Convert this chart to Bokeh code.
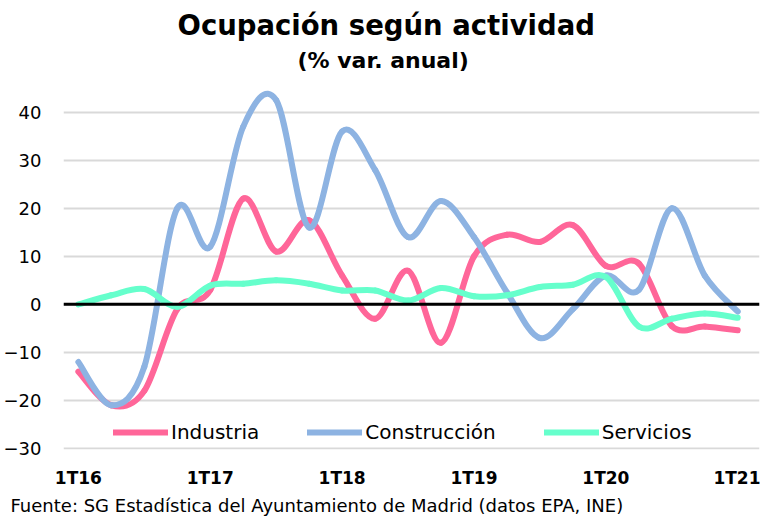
from bokeh.plotting import figure
from bokeh.models import (Range1d, FixedTicker, Title, Span, Legend, LegendItem,
                          ColumnDataSource)
from bokeh.embed import file_html
from bokeh.resources import INLINE

# ---- data ----
quarters = ["1T16", "2T16", "3T16", "4T16",
            "1T17", "2T17", "3T17", "4T17",
            "1T18", "2T18", "3T18", "4T18",
            "1T19", "2T19", "3T19", "4T19",
            "1T20", "2T20", "3T20", "4T20",
            "1T21"]
industria = [-14, -21, -18, -1, 3, 22, 11, 17.5, 6, -3, 7, -8,
             10, 14.5, 13, 16.5, 8, 8.5, -4.5, -4.6, -5.4]
construccion = [-12, -21, -13, 20, 12, 37, 42.5, 16, 36, 28, 14, 21.5,
                14, 2.5, -7, -1, 6, 3, 20, 6, -1.5]
servicios = [0, 1.9, 3.2, -0.5, 3.9, 4.3, 5, 4.3, 2.9, 2.9, 0.8, 3.4,
             1.7, 1.9, 3.6, 4.1, 5.7, -4.6, -3, -1.9, -2.8]
y_ticks = [-30, -20, -10, 0, 10, 20, 30, 40]

series = [("Industria", industria, "#FF6699"),
          ("Construcción", construccion, "#8DB3E2"),
          ("Servicios", servicios, "#66FFCC")]

FONT = "DejaVu Sans"

p = figure(width=760, height=518, output_backend="svg", toolbar_location=None,
           x_range=Range1d(-0.451, 20.66), y_range=Range1d(-30.21, 46.6),
           min_border_left=57, min_border_right=1, min_border_top=80,
           min_border_bottom=66, title=None)
p.outline_line_color = None
p.background_fill_color = "white"
p.border_fill_color = "white"

# titles (first added = closest to plot)
p.add_layout(Title(text="(% var. anual)", align="left", text_font=FONT,
                   text_font_size="22px", text_font_style="bold",
                   text_color="black", offset=234, standoff=16), "above")
p.add_layout(Title(text="Ocupación según actividad", align="left",
                   text_font=FONT, text_font_size="27.5px",
                   text_font_style="bold", text_color="black", offset=114,
                   standoff=-6), "above")

# axes
p.xgrid.grid_line_color = None
p.ygrid.grid_line_color = "#D9D9D9"
p.ygrid.grid_line_width = 2
p.yaxis.ticker = FixedTicker(ticks=y_ticks)
p.yaxis.axis_line_color = None
p.yaxis.major_tick_line_color = None
p.yaxis.minor_tick_line_color = None
p.yaxis.major_tick_out = 0
p.yaxis.major_label_standoff = 22
p.yaxis.major_label_text_font = FONT
p.yaxis.major_label_text_font_size = "18px"
p.yaxis.major_label_text_color = "black"

tick_idx = [i for i, q in enumerate(quarters) if q.startswith("1T")]
p.xaxis.ticker = FixedTicker(ticks=tick_idx)
p.xaxis.major_label_overrides = {i: quarters[i] for i in tick_idx}
p.xaxis.axis_line_color = None
p.xaxis.major_tick_line_color = None
p.xaxis.minor_tick_line_color = None
p.xaxis.major_tick_out = 0
p.xaxis.major_label_standoff = 18
p.xaxis.major_label_text_font = FONT
p.xaxis.major_label_text_font_size = "17px"
p.xaxis.major_label_text_font_style = "bold"
p.xaxis.major_label_text_color = "black"

p.add_layout(Span(location=0, dimension="width", line_color="black",
                  line_width=3))

# smooth curves: cubic Bezier segments through the data points
items = []
xs = list(range(len(quarters)))
for name, ys, color in series:
    n = len(ys)
    x0, y0, x1, y1, cx0, cy0, cx1, cy1 = ([] for _ in range(8))
    for i in range(n - 1):
        ip = max(i - 1, 0)
        inn = min(i + 2, n - 1)
        x0.append(xs[i]); y0.append(ys[i])
        x1.append(xs[i + 1]); y1.append(ys[i + 1])
        cx0.append(xs[i] + (xs[i + 1] - xs[ip]) / 6)
        cy0.append(ys[i] + (ys[i + 1] - ys[ip]) / 6)
        cx1.append(xs[i + 1] - (xs[inn] - xs[i]) / 6)
        cy1.append(ys[i + 1] - (ys[inn] - ys[i]) / 6)
    src = ColumnDataSource(dict(x0=x0, y0=y0, x1=x1, y1=y1,
                                cx0=cx0, cy0=cy0, cx1=cx1, cy1=cy1))
    r = p.bezier(x0="x0", y0="y0", x1="x1", y1="y1", cx0="cx0", cy0="cy0",
                 cx1="cx1", cy1="cy1", source=src, line_color=color,
                 line_width=6, line_cap="round")
    items.append(LegendItem(label=name, renderers=[r]))

legend = Legend(items=items, orientation="horizontal", location=(50, 5),
                glyph_width=55, glyph_height=20, label_standoff=3,
                spacing=48, padding=0, margin=0,
                label_text_font=FONT, label_text_font_size="20px",
                label_text_color="black", border_line_alpha=0,
                background_fill_alpha=0)
p.add_layout(legend, "center")

p.add_layout(Title(text="Fuente: SG Estadística del Ayuntamiento de Madrid (datos EPA, INE)",
                   align="left", text_font=FONT, text_font_size="18px",
                   text_font_style="normal", text_color="black",
                   offset=-53, standoff=5), "below")

open("out.html", "w").write(file_html(p, INLINE))
